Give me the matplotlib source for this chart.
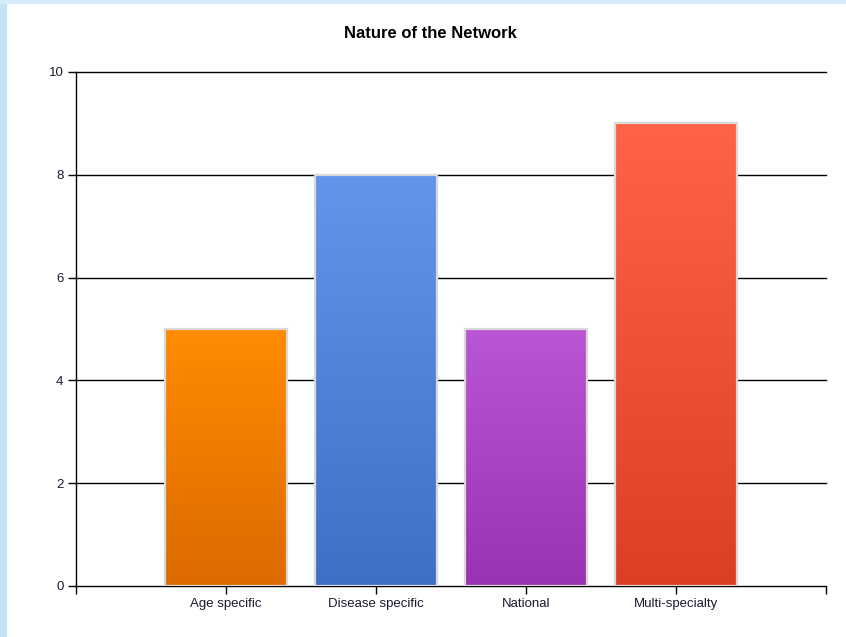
import matplotlib
matplotlib.use("Agg")
import matplotlib.pyplot as plt
import numpy as np
from matplotlib.colors import LinearSegmentedColormap
from matplotlib.patches import Rectangle

categories = ["Age specific", "Disease specific", "National", "Multi-specialty"]
values = [5, 8, 5, 9]
top_colors = ["#FF8C00", "#6495ED", "#BA55D3", "#FF6347"]
bottom_colors = ["#DC6A00", "#3F70C8", "#9A33B2", "#DC4024"]
yticks = [0, 2, 4, 6, 8, 10]

plt.rcParams['font.family'] = ['Liberation Sans', 'DejaVu Sans']

fig = plt.figure(figsize=(8.46, 6.37), dpi=100)
fig.patch.set_facecolor("white")
W, H = 846, 637
# light blue frame at left and top
fig.patches.append(Rectangle((0, 0), 6 / W, 1, transform=fig.transFigure, color="#C4E2F8", zorder=0))
fig.patches.append(Rectangle((0, 1 - 3 / H), 1, 3 / H, transform=fig.transFigure, color="#D6ECFB", zorder=0))

ax = fig.add_axes([76 / W, 1 - 586 / H, 750 / W, (586 - 72) / H])
ax.set_xlim(0, 5)
ax.set_ylim(0, 10)

x = np.arange(1, len(categories) + 1)
width = 0.81
for xi, v, tc, bc in zip(x, values, top_colors, bottom_colors):
    cmap = LinearSegmentedColormap.from_list("g", [bc, tc])
    grad = np.linspace(0, 1, 256).reshape(-1, 1)
    ax.imshow(grad, cmap=cmap, origin="lower", aspect="auto",
              extent=(xi - width / 2, xi + width / 2, 0, v), zorder=2)
bars = ax.bar(x, values, width=width, facecolor="none", edgecolor="#D9D9D9", linewidth=1.6, zorder=3)
ax.set_xlim(0, 5)
ax.set_ylim(0, 10)

for t in yticks[1:]:
    ax.axhline(t, color="black", linewidth=1, zorder=1, clip_on=False)

ax.set_yticks(yticks)
ax.set_yticklabels([str(t) for t in yticks])
ax.set_xticks([0] + list(x) + [5])
ax.set_xticklabels([""] + categories + [""])
ax.tick_params(axis="both", direction="out", length=6, width=1, colors="black",
               labelsize=9.5, labelcolor="#1a1a2e", pad=3)
ax.tick_params(axis="x", pad=9)
for lab in ax.get_xticklabels():
    lab.set_va("baseline")
for s in ["top", "right"]:
    ax.spines[s].set_visible(False)
for s in ["left", "bottom"]:
    ax.spines[s].set_linewidth(1)
    ax.spines[s].set_color("black")
ax.set_facecolor("white")

fig.text(430 / W, 1 - 33 / H, "Nature of the Network", ha="center", va="center",
         fontsize=12, fontweight="bold", color="black")

fig.savefig("out.png", dpi=100)
